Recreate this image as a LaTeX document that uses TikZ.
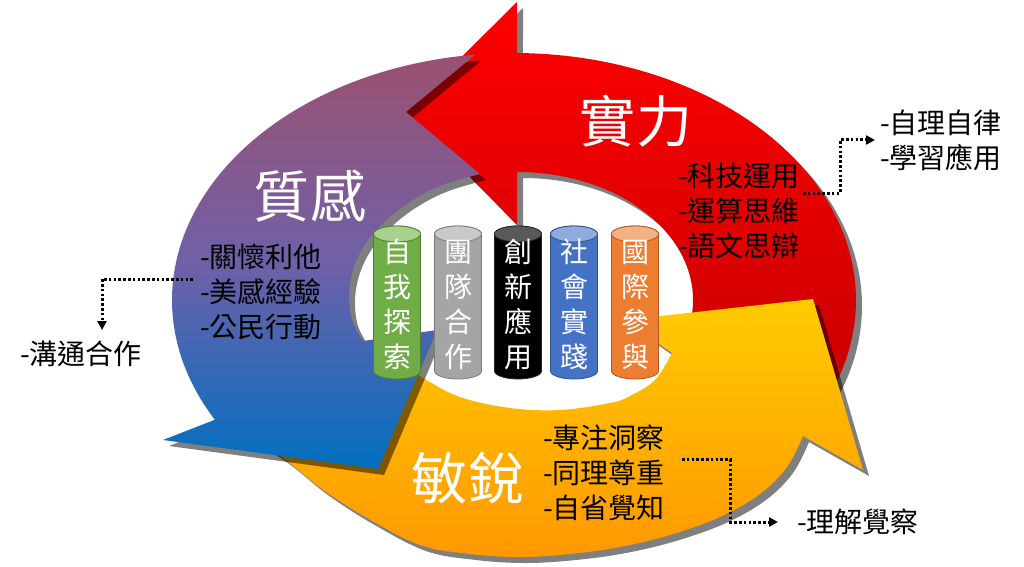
\documentclass[tikz,border=0pt]{standalone}
\usepackage{fontspec}
\newfontfamily\tcfont{Noto Sans CJK TC}
\usetikzlibrary{arrows.meta}
\definecolor{cgreen}{HTML}{70AD47}
\definecolor{cgreentop}{HTML}{A9D18E}
\definecolor{cgreenln}{HTML}{507E32}
\definecolor{cgray}{HTML}{A5A5A5}
\definecolor{cgraytop}{HTML}{C9C9C9}
\definecolor{cgrayln}{HTML}{7B7B7B}
\definecolor{cblack}{HTML}{000000}
\definecolor{cblacktop}{HTML}{595959}
\definecolor{cblackln}{HTML}{262626}
\definecolor{cblue}{HTML}{4472C4}
\definecolor{cbluetop}{HTML}{8FAADC}
\definecolor{cblueln}{HTML}{2F528F}
\definecolor{corange}{HTML}{ED7D31}
\definecolor{corangetop}{HTML}{F4B183}
\definecolor{corangeln}{HTML}{AE5A21}
\definecolor{redtop}{RGB}{255,0,0}
\definecolor{redbot}{RGB}{200,0,0}
\definecolor{purtop}{RGB}{155,80,112}
\definecolor{purmid}{RGB}{112,96,168}
\definecolor{purbot}{RGB}{0,112,192}
\definecolor{yeltop}{RGB}{255,204,0}
\definecolor{yelbot}{RGB}{255,152,0}

\newcommand\RedArrowPath{([shift={(514,266)}]89.5:342 and 247) -- (517,564) -- (406,454) -- (517,341)
  -- ([shift={(517,266)}]90:176 and 128) arc[start angle=90,end angle=-13.5,x radius=176,y radius=128]
  -- ([shift={(514,266)}]-25.2:342 and 247) arc[start angle=-25.2,end angle=89.5,x radius=342,y radius=247] -- cycle}

\newcommand\PurpleArrowPath{([shift={(514,266)}]96.5:342 and 247) arc[start angle=96.5,end angle=209,x radius=342,y radius=247]
  -- (163,126) -- (378,97) -- (437,236)
  -- plot[smooth,tension=0.6] coordinates {(363,225) (352,246) (349,271) (353,296) (364,320) (382,342) (408,363) (440,380) (480,392)}
  -- (406,454) -- cycle}

\newcommand\YellowArrowPath{plot[smooth,tension=0.6] coordinates {(250,128) (282,109) (322,77) (367,48) (420,21) (470,12) (520,9) (570,12) (620,19) (670,31) (720,49) (760,72) (787,99) (803,130)}
  -- (863,96) -- (813,267) -- (625,246)
  -- plot[smooth,tension=0.6] coordinates {(672,213) (655,186) (630,170) (610,163) (560,156) (510,158) (460,169) (423,188) (400,204)}
  -- cycle}

\newcommand\mycyl[6]{%
  \filldraw[draw=#4, fill=#2, line width=0.8pt] (#1-23.5,332) -- (#1-23.5,195)
    arc[start angle=180, end angle=360, x radius=23.5, y radius=8] -- (#1+23.5,332)
    arc[start angle=0, end angle=180, x radius=23.5, y radius=8] -- cycle;
  \filldraw[draw=#4, fill=#3, line width=0.8pt] (#1,332) ellipse[x radius=23.5, y radius=8];
  \node[cyltext] (#5) at (#1,261.5) {#6};
}

\begin{document}
\begin{tikzpicture}[x=1pt,y=1pt,
  arrowshadow/.style={fill=black, opacity=0.5, shift={(6,-6)}},
  listtext/.style={font=\tcfont\fontsize{28}{35}\selectfont, anchor=west, align=left, inner sep=0pt},
  biglabel/.style={font=\tcfont\fontsize{56}{60}\selectfont, text=white, inner sep=0pt},
  cyltext/.style={font=\tcfont\fontsize{28}{35}\selectfont, text=white, align=center, inner sep=0pt},
  dotline/.style={line width=3pt, dash pattern=on 2.6pt off 2.2pt, -{Triangle[length=9pt,width=9pt]}}]
\useasboundingbox (0,0) rectangle (1024,566);
\fill[white] (0,0) rectangle (1024,566);

% red arrow
\fill[arrowshadow] \RedArrowPath;
\shade[top color=redtop, bottom color=redbot] \RedArrowPath;
% yellow arrow
\fill[arrowshadow] \YellowArrowPath;
\shade[top color=yeltop, bottom color=yelbot] \YellowArrowPath;
% purple arrow
\fill[arrowshadow] \PurpleArrowPath;
\shade[top color=purtop, bottom color=purbot, middle color=purmid] \PurpleArrowPath;

% cylinders
\mycyl{397}{cgreen}{cgreentop}{cgreenln}{cylA}{自\\我\\探\\索}
\mycyl{458}{cgray}{cgraytop}{cgrayln}{cylB}{團\\隊\\合\\作}
\mycyl{518}{cblack}{cblacktop}{cblackln}{cylC}{創\\新\\應\\用}
\mycyl{574}{cblue}{cbluetop}{cblueln}{cylD}{社\\會\\實\\踐}
\mycyl{635}{corange}{corangetop}{corangeln}{cylE}{國\\際\\參\\與}

% big labels
\node[biglabel] (lblred) at (636,445) {實\kern2pt 力};
\node[biglabel] (lblpur) at (310,370) {質\kern2pt 感};
\node[biglabel] (lblyel) at (468,88) {敏\kern2pt 銳};

% lists
\node[listtext] (listred) at (678,355) {-科技運用\\-運算思維\\-語文思辯};
\node[listtext] (selfr) at (880,426) {-自理自律\\-學習應用};
\node[listtext] (listpur) at (200,274) {-關懷利他\\-美感經驗\\-公民行動};
\node[listtext] (comm) at (20,212) {-溝通合作};
\node[listtext] (listyel) at (543,93) {-專注洞察\\-同理尊重\\-自省覺知};
\node[listtext] (und) at (797,44) {-理解覺察};

% connectors
\coordinate (rc1) at (803,373);
\coordinate (rc2) at (840,373);
\draw[dotline] (rc1) -- (rc2) |- ([xshift=-5pt]selfr.west);
\coordinate (pc1) at (193,287);
\coordinate (pc2) at (102,287);
\coordinate (pc3) at (102,236);
\draw[dotline] (pc1) -- (pc2) -- (pc3);
\coordinate (yc1) at (682,107);
\coordinate (yc2) at (730,107);
\draw[dotline] (yc1) -- (yc2) |- ([xshift=-19pt]und.west);
\end{tikzpicture}
\end{document}
